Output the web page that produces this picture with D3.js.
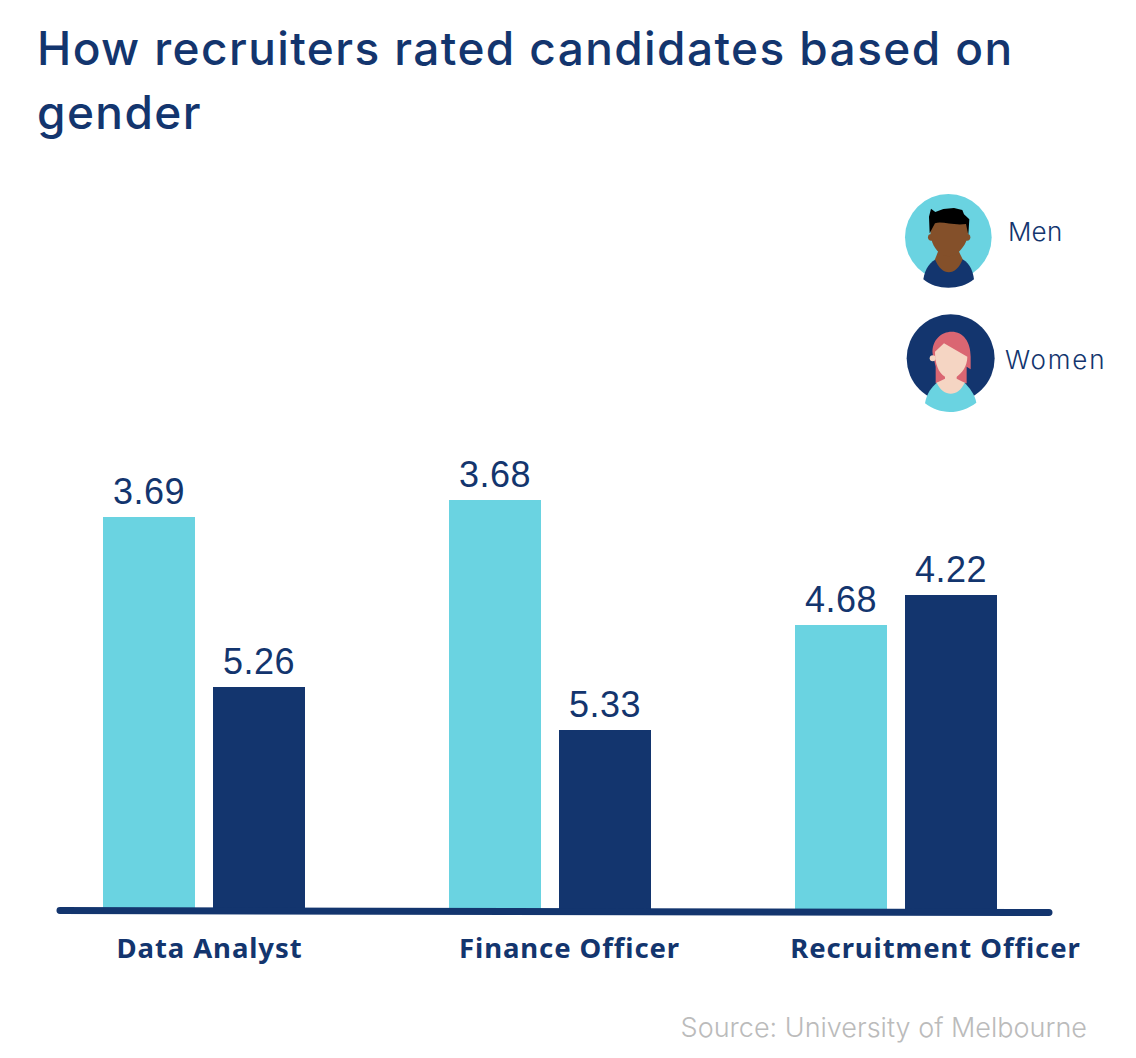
<!DOCTYPE html>
<html>
<head>
<meta charset="utf-8">
<script src="https://cdn.jsdelivr.net/npm/d3@7"></script>
<style>
	html, body { margin: 0; padding: 0; background: #fff; }
	svg { display: block; }
</style>
</head>
<body>
<div class="chart"></div>
<script>
const svgWidth = 1136
const svgHeight = 1058

const navy = "#13356E"
const teal = "#6AD3E1"

const titleLines = ["How recruiters rated candidates based on", "gender"]
const categories = ["Data Analyst", "Finance Officer", "Recruitment Officer"]
const seriesNames = ["Men", "Women"]

// printed numbers
const menLabels = ["3.69", "3.68", "4.68"]
const womenLabels = ["5.26", "5.33", "4.22"]

// the bars as drawn do not follow the printed numbers, so lengths are read separately
const menBars = [3.93, 4.10, 2.85]
const womenBars = [2.23, 1.80, 3.15]

const source = "Source: University of Melbourne"

let svg = d3.select(".chart")
	.append("svg")
	.attr("width", svgWidth)
	.attr("height", svgHeight)

// title
svg.selectAll(".title")
	.data(titleLines)
	.enter()
	.append("text")
	.attr("class", "title")
	.attr("x", 37)
	.attr("y", (d, i) => 65 + i * 64)
	.attr("font-family", "Inter, sans-serif")
	.attr("font-weight", 500)
	.attr("font-size", 46)
	.attr("letter-spacing", 1.4)
	.attr("fill", navy)
	.text(d => d)

// scales
let x = d3.scaleBand()
	.domain(categories)
	.range([31, 1069])
	.paddingInner(0)

let y = d3.scaleLinear()
	.domain([0, 4.1])
	.range([910, 500])

const barWidth = 92
const barGap = 18

let groups = categories.map((c, i) => ({
	category: c,
	men: menBars[i],
	women: womenBars[i],
	menLabel: menLabels[i],
	womenLabel: womenLabels[i],
	center: x(c) + x.bandwidth() / 2
}))

// bars
let bars = [
	{ key: "men", label: "menLabel", color: teal, dx: -barWidth - barGap / 2 },
	{ key: "women", label: "womenLabel", color: navy, dx: barGap / 2 }
]

bars.forEach(s => {
	svg.selectAll(".bar-" + s.key)
		.data(groups)
		.enter()
		.append("rect")
		.attr("class", "bar-" + s.key)
		.attr("x", d => d.center + s.dx)
		.attr("y", d => y(d[s.key]))
		.attr("width", barWidth)
		.attr("height", d => y(0) - y(d[s.key]))
		.attr("fill", s.color)

	svg.selectAll(".value-" + s.key)
		.data(groups)
		.enter()
		.append("text")
		.attr("class", "value-" + s.key)
		.attr("x", d => d.center + s.dx + barWidth / 2)
		.attr("y", d => y(d[s.key]) - 13.5)
		.attr("text-anchor", "middle")
		.attr("font-family", "'Liberation Sans', Arial, sans-serif")
		.attr("font-size", 36)
		.attr("letter-spacing", 0.5)
		.attr("fill", navy)
		.text(d => d[s.label])
})

// baseline, very slightly tilted in the original
svg.append("line")
	.attr("x1", 60)
	.attr("y1", 910.5)
	.attr("x2", 1049)
	.attr("y2", 912.5)
	.attr("stroke", navy)
	.attr("stroke-width", 7)
	.attr("stroke-linecap", "round")

// category labels
const labelShift = [5.5, 19.5, 39.5]

let xAxis = svg.append("g")
	.attr("transform", "translate(0, 958)")
	.call(d3.axisBottom(x).tickSize(0).tickPadding(0))

xAxis.select(".domain").remove()

xAxis.selectAll("text")
	.attr("dy", 0)
	.attr("x", (d, i) => labelShift[i])
	.attr("font-family", "'Noto Sans', sans-serif")
	.attr("font-weight", 700)
	.attr("font-size", 27.5)
	.attr("letter-spacing", 0.9)
	.attr("fill", navy)

// source
svg.append("text")
	.attr("x", 1087)
	.attr("y", 1037)
	.attr("text-anchor", "end")
	.attr("font-family", "Inter, sans-serif")
	.attr("font-weight", 300)
	.attr("font-size", 27)
	.attr("fill", "#BBBBBB")
	.text(source)

// legend icons, paths traced at 3x and scaled down
let icons = svg.append("g")
	.attr("transform", "translate(880, 180) scale(0.3333)")

function addPath(d, fill) {
	icons.append("path").attr("d", d).attr("fill", fill)
}

// man
icons.append("circle").attr("cx", 205).attr("cy", 172).attr("r", 130).attr("fill", teal)
addPath("M130 298C135 265 150 245 175 233L240 233C265 245 278 265 282 298C240 332 170 332 130 298Z", navy)
addPath("M178 205L165 238C185 290 228 290 248 238L232 205Z", "#84502A")
icons.append("circle").attr("cx", 154).attr("cy", 172).attr("r", 10).attr("fill", "#84502A")
icons.append("circle").attr("cx", 261).attr("cy", 172).attr("r", 10).attr("fill", "#84502A")
addPath("M153 120L262 120C268 165 264 190 234 218C215 232 195 232 178 218C153 195 148 165 153 120Z", "#84502A")
addPath("M149 160L147 110L153 86L166 96L190 87L222 84L247 90L252 103L268 118L265 165L258 132C220 138 185 122 165 130Z", "#000")

// woman
icons.append("circle").attr("cx", 212).attr("cy", 535).attr("r", 132).attr("fill", navy)
addPath("M158 522C154 480 185 455 215 455C250 455 272 485 272 530L272 568L260 560L260 610L167 610L167 560Z", "#DA6672")
addPath("M135 670C140 640 155 622 172 607L252 607C268 622 285 645 289 668C240 705 180 705 135 670Z", teal)
addPath("M195 575L195 596L170 608C190 652 235 652 254 608L230 596L230 575Z", "#F5D5C3")
icons.append("circle").attr("cx", 158).attr("cy", 535).attr("r", 9).attr("fill", "#F5D5C3")
addPath("M165 515L192 490L262 530C262 560 245 580 230 590C215 598 205 598 195 590C175 578 165 550 165 515Z", "#F5D5C3")

// legend labels
svg.selectAll(".legend")
	.data(seriesNames)
	.enter()
	.append("text")
	.attr("class", "legend")
	.attr("x", (d, i) => [1008, 1005][i])
	.attr("y", (d, i) => [241, 369][i])
	.attr("font-family", "Inter, sans-serif")
	.attr("font-weight", 300)
	.attr("font-size", 26)
	.attr("letter-spacing", (d, i) => [0.2, 1.8][i])
	.attr("fill", navy)
	.text(d => d)
</script>
</body>
</html>
